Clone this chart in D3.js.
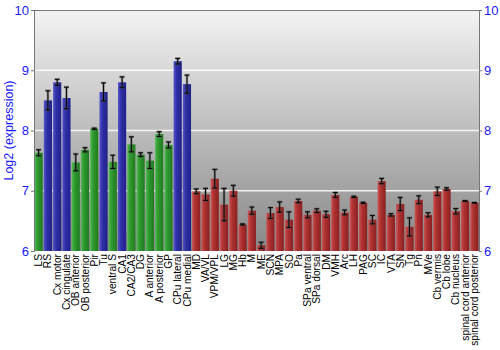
<!DOCTYPE html>
<html><head><meta charset="utf-8">
<script src="https://cdn.jsdelivr.net/npm/d3@7"></script>
<style>body{margin:0;background:#fff;} svg{display:block;font-family:"Liberation Sans",Arial,sans-serif;}</style>
</head><body>
<script>
const categories = ["LS","RS","Cx motor","Cx cingulate","OB anterior","OB posterior","Pir","Tu","ventral S","CA1","CA2/CA3","DG","A anterior","A posterior","GP","CPu lateral","CPu medial","MD","VA/VL","VPM/VPL","LG","MG","Hb","M","ME","SCN","MPA","SO","Pa","SPa ventral","SPa dorsal","DM","VMH","Arc","LH","PAG","SC","IC","VTA","SN","Tg","Pn","MVe","Cb vermis","Cb lobe","Cb nucleus","spinal cord anterior","spinal cord posterior"];
const values = [7.63,8.5,8.8,8.54,7.47,7.68,8.03,8.64,7.48,8.8,7.77,7.6,7.5,7.94,7.76,9.15,8.77,6.99,6.94,7.2,6.77,7.0,6.44,6.67,6.095,6.63,6.73,6.52,6.83,6.6,6.67,6.61,6.93,6.64,6.9,6.8,6.52,7.16,6.6,6.78,6.4,6.85,6.6,6.99,7.03,6.66,6.83,6.8];
const errors = [0.05,0.16,0.05,0.18,0.14,0.035,0.01,0.15,0.11,0.09,0.125,0.03,0.13,0.04,0.05,0.047,0.15,0.04,0.1,0.155,0.27,0.09,0.01,0.06,0.05,0.09,0.085,0.13,0.03,0.05,0.03,0.05,0.04,0.04,0.01,0.01,0.07,0.045,0.02,0.11,0.15,0.065,0.035,0.07,0.02,0.045,0.005,0.005];
const groups = ["g","b","b","b","g","g","g","b","g","b","g","g","g","g","g","b","b","r","r","r","r","r","r","r","r","r","r","r","r","r","r","r","r","r","r","r","r","r","r","r","r","r","r","r","r","r","r","r"];
const yTicks = [6,7,8,9,10];

const W=500,H=350, m={l:34,r:21,t:10,b:99};
const svg=d3.select("body").append("svg").attr("width",W).attr("height",H);
const defs=svg.append("defs");
const bg=defs.append("linearGradient").attr("id","bg").attr("x1",0).attr("x2",0).attr("y1",0).attr("y2",1);
bg.append("stop").attr("offset","0%").attr("stop-color","#f3f3f3");
bg.append("stop").attr("offset","100%").attr("stop-color","#878787");
const pal={b:["#5555cc","#3030a8","#20208a"],g:["#55bb55","#2f9a2f","#1f7a1f"],r:["#cc5555","#b03232","#8a2020"]};
Object.entries(pal).forEach(([k,c])=>{
  const gr=defs.append("linearGradient").attr("id","bar"+k).attr("x1",0).attr("x2",1).attr("y1",0).attr("y2",0);
  gr.append("stop").attr("offset","0%").attr("stop-color",c[0]);
  gr.append("stop").attr("offset","35%").attr("stop-color",c[1]);
  gr.append("stop").attr("offset","100%").attr("stop-color",c[2]);
});

const x=d3.scaleBand().domain(categories).range([m.l,W-m.r]).paddingInner(0.12).paddingOuter(0.06);
const y=d3.scaleLinear().domain([6,10]).range([H-m.b,m.t]);

svg.append("rect").attr("x",m.l).attr("y",m.t).attr("width",W-m.r-m.l).attr("height",H-m.b-m.t).attr("fill","url(#bg)");
svg.append("g").selectAll("line").data(yTicks.slice(1,4)).join("line")
  .attr("x1",m.l).attr("x2",W-m.r).attr("y1",d=>y(d)).attr("y2",d=>y(d))
  .attr("stroke","#ffffff").attr("stroke-opacity",0.85).attr("stroke-width",1.5);

const data=categories.map((c,i)=>({c,v:values[i],e:errors[i],g:groups[i]}));
svg.append("g").selectAll("rect").data(data).join("rect")
  .attr("x",d=>x(d.c)).attr("width",x.bandwidth())
  .attr("y",d=>y(d.v)).attr("height",d=>y(6)-y(d.v))
  .attr("fill",d=>"url(#bar"+d.g+")");

const eb=svg.append("g");
data.forEach(d=>{
  const cx=x(d.c)+x.bandwidth()/2, y1=y(d.v+d.e), y2=y(d.v-d.e);
  const g=eb.append("g");
  [["#555",2.5,0.5],["#000",1,1]].forEach(([col,w,op])=>{
    g.append("line").attr("x1",cx).attr("x2",cx).attr("y1",y1).attr("y2",y2).attr("stroke",col).attr("stroke-width",w).attr("stroke-opacity",op);
    [y1,y2].forEach(yy=>g.append("line").attr("x1",cx-2.5).attr("x2",cx+2.5).attr("y1",yy).attr("y2",yy).attr("stroke",col).attr("stroke-width",w).attr("stroke-opacity",op));
  });
});

svg.append("line").attr("x1",m.l).attr("x2",W-m.r).attr("y1",m.t+0.5).attr("y2",m.t+0.5).attr("stroke","#777");

const fmt=d3.format("d");
const yl=svg.append("g").attr("transform",`translate(${m.l},0)`).call(d3.axisLeft(y).tickValues(yTicks).tickFormat(fmt).tickSize(3).tickPadding(2));
const yr=svg.append("g").attr("transform",`translate(${W-m.r},0)`).call(d3.axisRight(y).tickValues(yTicks).tickFormat(fmt).tickSize(3).tickPadding(2));
[yl,yr].forEach(a=>{
  a.select(".domain").attr("stroke","#777");
  a.selectAll(".tick line").attr("stroke","#777");
  a.selectAll("text").attr("fill","#1a1aff").attr("font-size",13).attr("font-family","Liberation Sans, Arial, sans-serif");
});

const xa=svg.append("g").attr("transform",`translate(0,${H-m.b})`).call(d3.axisBottom(x).tickSize(0).tickPadding(3));
xa.select(".domain").remove();
xa.selectAll("text").attr("transform","rotate(-90)").attr("text-anchor","end").attr("dx","-3").attr("dy","0.35em").attr("x",0).attr("y",0)
  .attr("fill","#000").attr("font-size",10.2).attr("font-family","Liberation Sans, Arial, sans-serif");

svg.append("text").attr("transform",`translate(9,${(m.t+H-m.b)/2}) rotate(-90)`).attr("text-anchor","middle").attr("dy","0.35em")
  .attr("fill","#1a1aff").attr("font-size",12.5).text("Log2 (expression)");
</script>
</body></html>
